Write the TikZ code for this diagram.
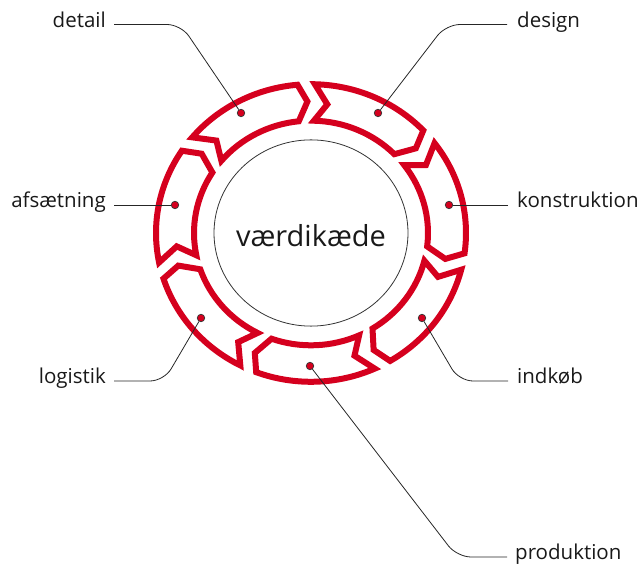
\documentclass[tikz,border=0pt]{standalone}
\usepackage{fontspec}
\setmainfont{Open Sans}
\definecolor{ringred}{RGB}{213,0,30}
\begin{document}
\begin{tikzpicture}[x=1pt,y=1pt,
  seg/.style={draw=ringred, line width=6pt, line join=miter, miter limit=6},
  dot/.style={circle, fill=ringred, draw=black!80, line width=0.7pt, inner sep=0pt, minimum size=7.5pt},
  lbl/.style={font=\fontsize{20.5}{24}\selectfont, text=black!90, inner sep=0pt},
  lead/.style={draw=black!85, line width=0.8pt, rounded corners=14pt}]
\useasboundingbox (0,0) rectangle (640,567);
\begin{scope}[shift={(311,334)}, yscale=0.96]
 \draw[black!80, line width=0.8pt] (0,0) circle[radius=97];
 \foreach \t in {140,88.57,37.14,-14.29,-65.71,-117.14,-168.57}{
   \draw[seg] (\t:155) arc[start angle=\t, end angle=\t-45, radius=155]
     -- ({\t-48.5}:137) -- ({\t-44}:117)
     arc[start angle=\t-44, end angle=\t, radius=117]
     -- ({\t-5.5}:135) -- cycle;
 }
\end{scope}
\node[font=\fontsize{29}{33}\selectfont, text=black!90] (center) at (311,331) {værdikæde};
% labels
\node[lbl, anchor=mid east] (detail) at (106,542.5) {detail};
\node[lbl, anchor=mid west] (design) at (517,542.5) {design};
\node[lbl, anchor=mid east] (afs) at (106,362) {afsætning};
\node[lbl, anchor=mid west] (kon) at (517,362) {konstruktion};
\node[lbl, anchor=mid east] (log) at (106,186) {logistik};
\node[lbl, anchor=mid west] (ind) at (517,186) {indkøb};
\node[lbl, anchor=mid west] (prod) at (515,10) {produktion};
% dots
\node[dot] (ddetail) at (241,454) {};
\node[dot] (ddesign) at (378,454) {};
\node[dot] (dafs) at (175,362) {};
\node[dot] (dkon) at (449,362) {};
\node[dot] (dlog) at (201,249) {};
\node[dot] (dind) at (422,249) {};
\node[dot] (dprod) at (310,201) {};
% leaders
\draw[lead] ([xshift=8pt]detail.mid east) -- (181,542.5) -- (ddetail);
\draw[lead] ([xshift=-10pt]design.mid west) -- (446,542.5) -- (ddesign);
\draw[lead] ([xshift=8pt]afs.mid east) -- (dafs);
\draw[lead] ([xshift=-9pt]kon.mid west) -- (dkon);
\draw[lead] ([xshift=8pt]log.mid east) -- (164,186) -- (dlog);
\draw[lead] ([xshift=-9pt]ind.mid west) -- (459,186) -- (dind);
\draw[lead] ([xshift=-8pt]prod.mid west) -- (457,10) -- (dprod);
\end{tikzpicture}
\end{document}
